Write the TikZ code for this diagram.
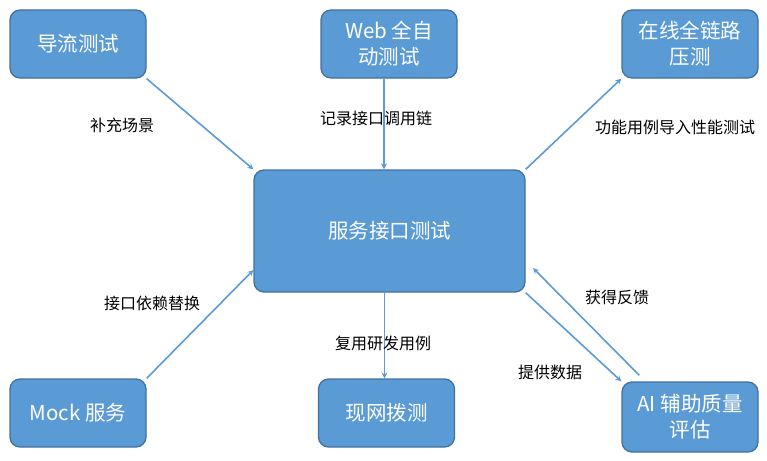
\documentclass[tikz,border=0pt]{standalone}
\usepackage{fontspec}
\newfontfamily\cjk{Noto Sans CJK SC}
\usepackage{tikz}
\usetikzlibrary{arrows, positioning}
\definecolor{boxblue}{HTML}{5B9BD5}
\definecolor{boxline}{HTML}{41719C}

\begin{document}
\begin{tikzpicture}[x=1pt, y=-1pt]
\tikzstyle{box}=[rectangle, rounded corners=10pt, fill=boxblue, draw=boxline, line width=1.3pt, minimum width=136pt, minimum height=68pt, inner sep=0pt, text=white, align=center, font=\cjk\fontsize{20.5}{26}\selectfont]
\tikzstyle{connect}=[-stealth, line width=1.6pt, draw=boxblue]
\tikzstyle{tag}=[text=black, font=\cjk\fontsize{16}{19}\selectfont]
\useasboundingbox (0,0) rectangle (767,460);
\node[box] (flow) at (78, 44) {导流测试};
\node[box] (web) at (389, 44) {Web 全自\\动测试};
\node[box] (online) at (690, 44) {在线全链路\\压测};
\node[box, minimum width=271pt, minimum height=122pt] (main) at (389.5, 231) {服务接口测试};
\node[box] (mock) at (78, 413) {Mock 服务};
\node[box] (probe) at (386.5, 413) {现网拨测};
\node[box, minimum height=70pt] (ai) at (690, 417) {AI 辅助质量\\评估};
\coordinate (fb) at (533, 268);
\path (flow.south east) edge [connect] (main.north west);
\path ([xshift=-5pt]web.south) edge [connect] ([xshift=-5pt]web.south |- main.north);
\path (main.north east) edge [connect] (online.south west);
\path (mock.north east) edge [connect] (main.196);
\path ([xshift=-5pt]main.south) edge [connect] ([xshift=-5pt]main.south |- probe.north);
\path (main.south east) edge [connect] (ai.north west);
\path ([xshift=18pt, yshift=6pt]ai.north west) edge [connect] (fb);
\node[tag] (t1) at (122, 125) {补充场景};
\node[tag] (t2) at (376, 118) {记录接口调用链};
\node[tag] (t3) at (675, 127) {功能用例导入性能测试};
\node[tag] (t4) at (152, 303) {接口依赖替换};
\node[tag] (t5) at (383, 343) {复用研发用例};
\node[tag] (t6) at (617, 297) {获得反馈};
\node[tag] (t7) at (550, 372) {提供数据};
\end{tikzpicture}
\end{document}
